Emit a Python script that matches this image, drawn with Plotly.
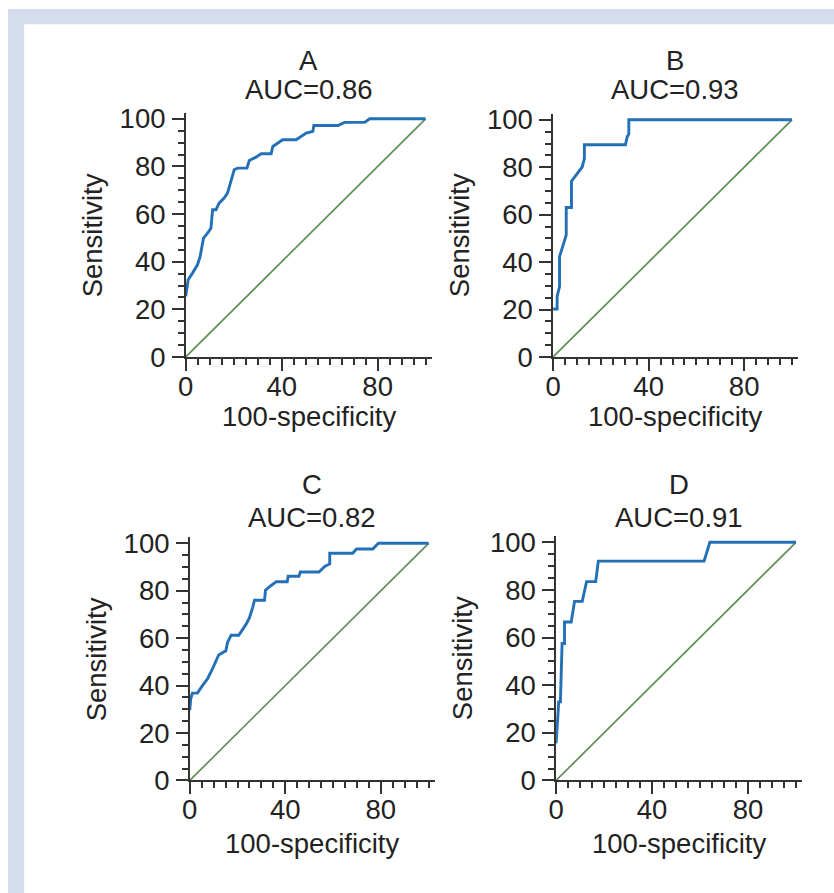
import plotly.graph_objects as go

# The page shows the figure offset by the body margin (8px) and slightly
# scaled; positions below are given in target screen pixels and mapped.
OFF = 8
KX = 0.987
KY = 0.976
W, H = 850, 910

# ---- data ----
panels = ["A", "B", "C", "D"]
auc_labels = ["AUC=0.86", "AUC=0.93", "AUC=0.82", "AUC=0.91"]

a_x = [0, 1, 2.8, 4.9, 6, 7.4, 9.1, 10.5, 11.2, 12.6, 13.9, 16, 17.4, 18.8, 20.2, 21.6, 25.5, 26.5, 29.3,
       31.4, 35.6, 36.3, 40.4, 46, 50.2, 53, 53.4, 63.5, 66.2, 74.6, 76.7, 100]
a_y = [25.5, 32.4, 35.2, 38.7, 42.2, 49.9, 52, 54, 61.8, 61.8, 64.6, 66.7, 68.8, 73.7, 78.6, 79.3, 79.3, 82.5,
       83.9, 85.3, 85.3, 88.4, 91.2, 91.2, 94, 94.7, 97.2, 97.2, 98.5, 98.5, 100, 100]

b_x = [0, 1.7, 1.7, 2.7, 2.7, 4.1, 5.5, 5.5, 7.7, 7.7, 10.8, 12.2, 13.1, 13.1, 30.3, 31, 31.7, 31.7, 100]
b_y = [20.2, 20.2, 25.5, 29.7, 42.3, 46.5, 51.4, 63, 63, 74.1, 78, 80.1, 83.6, 89.5, 89.5, 92.7, 94.1, 100, 100]

c_x = [0, 0.4, 1.1, 3.2, 5.3, 7.4, 9.5, 12.1, 15.1, 15.8, 17.3, 20.5, 23.6, 25, 26.4, 27.1, 31.3, 31.7, 34.1,
       36.2, 40.8, 41.2, 45.7, 46.3, 54.1, 56.5, 58.6, 58.6, 68.2, 69.8, 76.6, 79, 100]
c_y = [29.6, 34.4, 36.8, 36.8, 40, 42.8, 47, 52.9, 54.7, 58.2, 61.2, 61.2, 65.9, 68.6, 73.2, 76, 76, 80.2, 82.2,
       83.8, 83.8, 86.1, 86.1, 87.9, 87.9, 90.2, 91.3, 95.8, 95.8, 97.6, 97.6, 100, 100]

d_x = [0, 0.7, 1.1, 1.8, 2.1, 2.5, 3.5, 3.5, 6.3, 7.7, 10.9, 12.7, 16.5, 17.6, 61.7, 64.1, 100]
d_y = [15.6, 24.7, 33, 33, 49.8, 57.5, 57.5, 66.5, 66.5, 75.2, 75.2, 83.5, 83.5, 92.1, 92.1, 100, 100]

ref_x = [0, 100]
ref_y = [0, 100]

x_tickvals = [0, 20, 40, 60, 80, 100]
x_ticktext = ["0", "", "40", "", "80", ""]
y_tickvals = [0, 20, 40, 60, 80, 100]
y_ticktext = ["0", "20", "40", "60", "80", "100"]
minor_vals = list(range(0, 101, 5))

curves = [(a_x, a_y), (b_x, b_y), (c_x, c_y), (d_x, d_y)]

# ---- layout geometry (target screen pixels) ----
geom = [(185, 357, 239), (551, 357, 238), (189, 782, 238), (554, 782, 239)]
title_y = [(59, 88.5), (59, 88.5), (485.5, 518), (485.5, 518)]
xtitle_y = [417, 417, 845, 845]


def px(sx):
    return (sx / KX - OFF) / W


def py(sy):
    return 1 - (sy / KY - OFF) / H


BLUE = "#2370b6"
GREEN = "#5f8f55"
AX = "#333333"
BAND = "#d4dced"
FONT = "Liberation Sans, Arial, Helvetica, sans-serif"
FS = 27.5
RMAX = 102.5

fig = go.Figure()
layout = dict(width=W, height=H, margin=dict(l=0, r=0, t=0, b=0), autosize=False,
              paper_bgcolor="white", plot_bgcolor="rgba(0,0,0,0)",
              showlegend=False, font=dict(family=FONT, size=FS, color="#222222"))

annotations = []
shapes = [
    dict(type="rect", xref="paper", yref="paper", x0=0, x1=1, y0=py(23), y1=1,
         fillcolor=BAND, line=dict(width=0), layer="below"),
    dict(type="rect", xref="paper", yref="paper", x0=0, x1=px(24), y0=0, y1=1,
         fillcolor=BAND, line=dict(width=0), layer="below"),
]

for i, (cx, cy) in enumerate(curves):
    n = i + 1
    xa = "x" if n == 1 else f"x{n}"
    ya = "y" if n == 1 else f"y{n}"
    fig.add_trace(go.Scatter(x=ref_x, y=ref_y, mode="lines", xaxis=xa, yaxis=ya,
                             line=dict(color=GREEN, width=1.7), cliponaxis=False, hoverinfo="skip"))
    fig.add_trace(go.Scatter(x=cx, y=cy, mode="lines", xaxis=xa, yaxis=ya,
                             line=dict(color=BLUE, width=2.9), cliponaxis=False, hoverinfo="skip"))

    x0p, y0p, span = geom[i]
    xd = [px(x0p), px(x0p + span * RMAX / 100.0)]
    yd = [py(y0p), py(y0p - span * RMAX / 100.0)]

    axis_common = dict(range=[0, RMAX], showgrid=False, zeroline=False, showline=True,
                       linecolor=AX, linewidth=1.5, ticks="outside", ticklen=12, tickwidth=1.5,
                       tickcolor=AX, tickmode="array", tickfont=dict(family=FONT, size=FS, color="#222222"),
                       minor=dict(tickmode="array", tickvals=minor_vals, ticks="outside", ticklen=6,
                                  tickwidth=1.5, tickcolor=AX, showgrid=False),
                       fixedrange=True)
    layout["xaxis" if n == 1 else f"xaxis{n}"] = dict(
        axis_common, domain=xd, anchor=ya, tickvals=x_tickvals, ticktext=x_ticktext,
        ticklabelstandoff=-8)
    layout["yaxis" if n == 1 else f"yaxis{n}"] = dict(
        axis_common, domain=yd, anchor=xa, tickvals=y_tickvals, ticktext=y_ticktext,
        ticklabelstandoff=1)

    cxp = x0p + span * RMAX / 200.0
    t1, t2 = title_y[i]
    annotations.append(dict(text=panels[i], xref="paper", yref="paper", x=px(cxp), y=py(t1),
                            xanchor="center", yanchor="middle", showarrow=False))
    annotations.append(dict(text=auc_labels[i], xref="paper", yref="paper", x=px(cxp), y=py(t2),
                            xanchor="center", yanchor="middle", showarrow=False))
    annotations.append(dict(text="100-specificity", xref="paper", yref="paper", x=px(cxp),
                            y=py(xtitle_y[i]), xanchor="center", yanchor="middle", showarrow=False))
    annotations.append(dict(text="Sensitivity", xref="paper", yref="paper", x=px(x0p - 93),
                            y=py(y0p - span * RMAX / 200.0), xanchor="center", yanchor="middle",
                            textangle=-90, showarrow=False))

layout["annotations"] = annotations
layout["shapes"] = shapes
fig.update_layout(**layout)
fig.write_html("out.html")
